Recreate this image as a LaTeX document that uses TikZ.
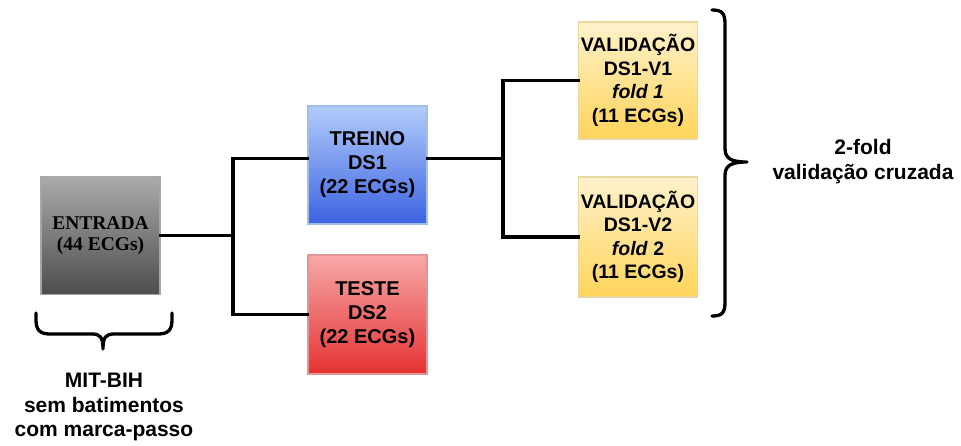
\documentclass[tikz,border=0pt]{standalone}
\usepackage{fontspec}
\setmainfont{Liberation Serif}
\setsansfont{Liberation Sans}
\begin{document}
\begin{tikzpicture}[x=1pt,y=-1pt,
  box/.style={minimum width=119pt,minimum height=118pt,inner sep=0pt,line width=1.2pt,align=center,text=black,font=\fontsize{20}{24}\selectfont\sffamily\bfseries},
  conn/.style={line width=3.3pt,line cap=rect},
  brace/.style={line width=3.3pt,line cap=round,line join=round},
  lbl/.style={align=center,font=\fontsize{21}{25}\selectfont\sffamily\bfseries}]
\useasboundingbox (0,0) rectangle (961,445);
\node[box,draw=gray!70,top color=black!33,bottom color=black!70,text=black,font=\fontsize{19.5}{21.5}\selectfont\rmfamily\bfseries] (in) at (100.5,235.5) {ENTRADA\\(44 ECGs)};
\node[box,draw={rgb,255:red,160;green,190;blue,235},top color={rgb,255:red,178;green,205;blue,250},bottom color={rgb,255:red,60;green,98;blue,225}] (tr) at (367.5,165) {TREINO\\DS1\\(22 ECGs)};
\node[box,minimum height=119pt,draw={rgb,255:red,225;green,150;blue,150},top color={rgb,255:red,248;green,168;blue,168},bottom color={rgb,255:red,228;green,50;blue,50}] (te) at (367.5,314.5) {TESTE\\DS2\\(22 ECGs)};
\node[box,minimum height=117pt,draw={rgb,255:red,235;green,215;blue,160},top color={rgb,255:red,255;green,242;blue,204},bottom color={rgb,255:red,255;green,212;blue,90},font=\fontsize{19.5}{23.5}\selectfont\sffamily\bfseries] (v1) at (638,80.5) {VALIDAÇÃO\\DS1-V1\\\textit{fold 1}\\(11 ECGs)};
\node[box,minimum height=120pt,draw={rgb,255:red,235;green,215;blue,160},top color={rgb,255:red,255;green,242;blue,204},bottom color={rgb,255:red,255;green,212;blue,90},font=\fontsize{19.5}{23.5}\selectfont\sffamily\bfseries] (v2) at (638,237) {VALIDAÇÃO\\DS1-V2\\\textit{fold} 2\\(11 ECGs)};
\coordinate (j1) at (in.east -| 233,0);
\coordinate (j2) at (tr.6 -| 503,0);
\draw[conn] (in.east) -- (j1);
\draw[conn] (j1) |- (tr.174);
\draw[conn] (j1) |- (te.west);
\draw[conn] (tr.6) -- (j2);
\draw[conn] (j2) |- (v1.west);
\draw[conn] (j2) |- (v2.west);
% right brace
\draw[brace] (712,10) .. controls (722,10) and (725,13) .. (725,24) -- (725,148)
  .. controls (725,158) and (730,162) .. (747,162)
  .. controls (730,162) and (725,166) .. (725,176) -- (725,302)
  .. controls (725,313) and (722,316) .. (712,316);
\node[lbl] (cv) at (863,162) {2-fold\\validação cruzada};
% bottom brace
\draw[brace] (36,313) -- (36,320) .. controls (36,330) and (40,334) .. (50,334) -- (92,334)
  .. controls (100,334) and (103,337) .. (103,349)
  .. controls (103,337) and (106,334) .. (114,334) -- (158,334)
  .. controls (168,334) and (172,330) .. (172,320) -- (172,313);
\node[lbl,font=\fontsize{21}{24.5}\selectfont\sffamily\bfseries] (mb) at (104,407) {MIT-BIH\\sem batimentos\\com marca-passo};
\end{tikzpicture}
\end{document}
